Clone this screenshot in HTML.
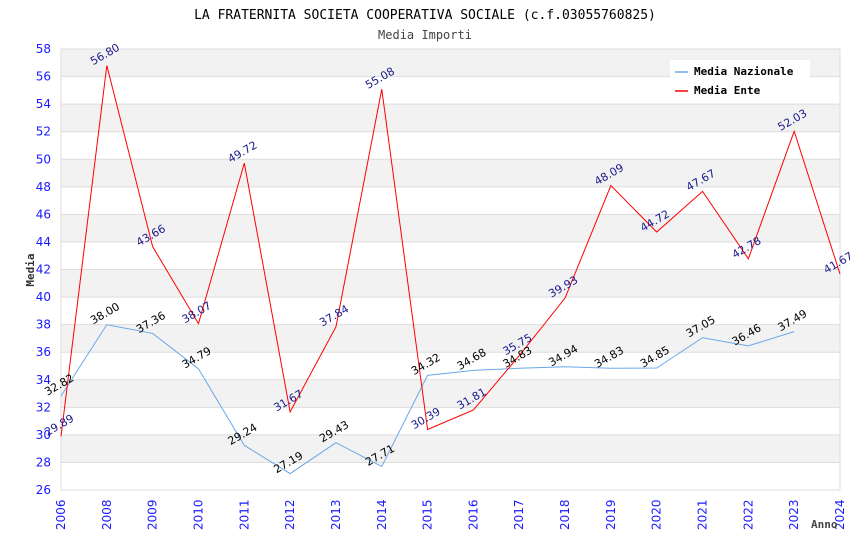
<!DOCTYPE html>
<html><head><meta charset="utf-8"><style>
body{margin:0;background:#fff;}
svg text{font-family:"DejaVu Sans",sans-serif;}
</style></head><body>
<svg id="chart" width="850" height="550" xmlns="http://www.w3.org/2000/svg">
<text x="425" y="19" text-anchor="middle" font-family="DejaVu Sans Mono" font-size="13" style="font-family:'DejaVu Sans Mono',monospace">LA FRATERNITA SOCIETA COOPERATIVA SOCIALE (c.f.03055760825)</text>
<text x="425" y="39" text-anchor="middle" font-size="12" fill="#444" style="font-family:'DejaVu Sans Mono',monospace">Media Importi</text>
<g id="bands"></g><g id="grid"></g><g id="axes"></g><g id="series"></g><g id="labels"></g>
<g>
<rect x="670" y="60" width="140" height="40" fill="#fff"/>
<line x1="675" y1="72" x2="688" y2="72" stroke="#6aa8e8" stroke-width="1.5"/>
<text x="694" y="75" font-size="11" font-weight="bold" style="font-family:'DejaVu Sans Mono',monospace">Media Nazionale</text>
<line x1="675" y1="91" x2="688" y2="91" stroke="#ff0000" stroke-width="1.5"/>
<text x="694" y="94" font-size="11" font-weight="bold" style="font-family:'DejaVu Sans Mono',monospace">Media Ente</text>
</g>
<text x="34" y="270" transform="rotate(-90 34 270)" text-anchor="middle" font-size="11" font-weight="bold" fill="#333" style="font-family:'DejaVu Sans Mono',monospace">Media</text>
<text x="811" y="528" font-size="11" font-weight="bold" fill="#444" style="font-family:'DejaVu Sans Mono',monospace">Anno</text>
</svg>
<script>
const categories=["2006","2008","2009","2010","2011","2012","2013","2014","2015","2016","2017","2018","2019","2020","2021","2022","2023","2024"];
const nazionale=[32.82,38.00,37.36,34.79,29.24,27.19,29.43,27.71,34.32,34.68,34.83,34.94,34.83,34.85,37.05,36.46,37.49,null];
const ente=[29.89,56.80,43.66,38.07,49.72,31.67,37.84,55.08,30.39,31.81,35.75,39.93,48.09,44.72,47.67,42.78,52.03,41.67];
const yTicks=[26,28,30,32,34,36,38,40,42,44,46,48,50,52,54,56,58];
const X0=61,X1=840,Y0=490,Y1=49,YMIN=26,YMAX=58;
const NS="http://www.w3.org/2000/svg";
function xs(i){return X0+i*(X1-X0)/(categories.length-1);}
function ys(v){return Y0-(v-YMIN)/(YMAX-YMIN)*(Y0-Y1);}
function mk(tag,attrs,parent,txt){const e=document.createElementNS(NS,tag);for(const k in attrs)e.setAttribute(k,attrs[k]);if(txt!==undefined)e.textContent=txt;document.getElementById(parent).appendChild(e);return e;}
for(let i=0;i<yTicks.length-1;i++){
  if(i%2===1){const r=mk('rect',{x:X0,y:ys(yTicks[i+1]),width:X1-X0,height:ys(yTicks[i])-ys(yTicks[i+1]),fill:'#f2f2f2'},'bands');
  
  }
}
yTicks.forEach(t=>{
  const l=mk('line',{x1:X0,x2:X1,y1:ys(t),y2:ys(t),stroke:'#ddd'},'grid');
  
  
  const tx=mk('text',{x:X0-10,y:ys(t)+4,'text-anchor':'end','font-size':12,fill:'#1a1aff'},'axes',t);
  
  
});
mk('rect',{x:X0,y:Y1,width:X1-X0,height:Y0-Y1,fill:'none',stroke:'#ddd'},'axes');
categories.forEach((c,i)=>{
  const x=xs(i);
  const t=mk('text',{x:0,y:0,transform:`translate(${x+4},530) rotate(-90)`,'font-size':12,fill:'#1a1aff'},'axes',c);
  
  
});
function drawSeries(arr,color,lab,name){
  let d='';arr.forEach((v,i)=>{if(v!==null)d+=(d?'L':'M')+xs(i)+','+ys(v);});
  const p=mk('path',{d:d,fill:'none',stroke:color,'stroke-width':1},'series');
  
  
  arr.forEach((v,i)=>{if(v===null)return;
    const x=xs(i),y=ys(v);
    const t=mk('text',{x:0,y:0,transform:`translate(${x},${y-8}) rotate(-30)`,'text-anchor':'middle','font-size':11,fill:lab},'labels',v.toFixed(2));
    
    
  });
}
drawSeries(nazionale,'#6aa8e8','#000','line-media-nazionale');
drawSeries(ente,'#ff0000','#1a1a8c','line-media-ente');
</script>
</body></html>
